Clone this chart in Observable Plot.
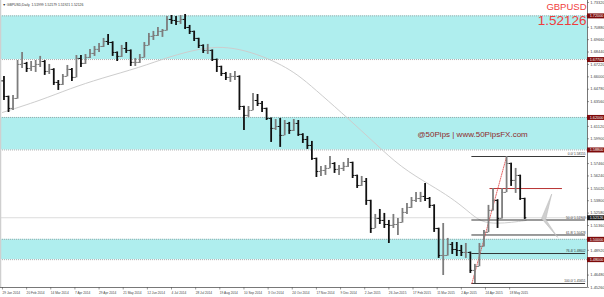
<!DOCTYPE html>
<html><head><meta charset="utf-8">
<script src="https://cdn.jsdelivr.net/npm/d3@7"></script>
<script src="https://cdn.jsdelivr.net/npm/@observablehq/plot@0.6"></script>
<style>body{margin:0;background:#fff} svg{display:block}</style>
</head><body><div id="chart"></div>
<script>
// ---- data: GBPUSD daily, grouped in 3-day bars ----
const barsPerGroup = 3;
const firstOpen = 1.6560;
const groupHigh = [
1.6604,1.6410,1.6417,1.6761,1.6840,1.6742,1.6751,1.6761,1.6801,1.6760,
1.6722,1.6680,1.6564,1.6623,1.6712,1.6682,1.6810,1.6810,1.6820,1.6870,
1.6899,1.6929,1.6978,1.7017,1.6945,1.6845,1.6909,1.6938,1.6865,1.6781,
1.6820,1.6938,1.7027,1.7047,1.7086,1.7066,1.7194,1.7204,1.7194,1.7204,
1.7214,1.7106,1.7050,1.6980,1.6915,1.6919,1.6865,1.6775,1.6705,1.6643,
1.6633,1.6653,1.6610,1.6310,1.6308,1.6436,1.6426,1.6358,1.6292,1.6195,
1.6180,1.6190,1.6170,1.6151,1.6180,1.6170,1.6040,1.6013,1.5964,1.5800,
1.5718,1.5727,1.5816,1.5755,1.5727,1.5757,1.5796,1.5760,1.5632,1.5619,
1.5599,1.5385,1.5245,1.5294,1.5255,1.5186,1.5245,1.5206,1.5304,1.5353,
1.5412,1.5462,1.5462,1.5550,1.5412,1.5340,1.5110,1.5156,1.5009,1.4969,
1.4969,1.4940,1.4959,1.4875,1.4753,1.4959,1.5087,1.5334,1.5501,1.5390,
1.5501,1.58155,1.5750,1.5698,1.5632,1.5405];
const groupLow = [
1.6367,1.6249,1.6269,1.6380,1.6682,1.6643,1.6653,1.6643,1.6692,1.6614,
1.6623,1.6515,1.6466,1.6515,1.6600,1.6554,1.6590,1.6692,1.6722,1.6781,
1.6801,1.6840,1.6889,1.6909,1.6801,1.6751,1.6791,1.6830,1.6702,1.6702,
1.6732,1.6785,1.6905,1.6958,1.6998,1.6988,1.7050,1.7116,1.7106,1.7116,
1.7066,1.7017,1.6948,1.6879,1.6830,1.6820,1.6751,1.6643,1.6604,1.6564,
1.6545,1.6564,1.6269,1.6072,1.6200,1.6265,1.6308,1.6249,1.6170,1.5954,
1.6072,1.5905,1.6020,1.6033,1.6062,1.6013,1.5944,1.5885,1.5777,1.5609,
1.5619,1.5629,1.5695,1.5649,1.5629,1.5668,1.5708,1.5599,1.5501,1.5521,
1.5334,1.5058,1.5105,1.5146,1.5107,1.4959,1.5107,1.5038,1.5160,1.5245,
1.5305,1.5363,1.5363,1.5373,1.5304,1.5068,1.4812,1.4644,1.4835,1.4851,
1.4831,1.4831,1.4812,1.4664,1.45651,1.4730,1.4925,1.5065,1.5280,1.5107,
1.5200,1.5460,1.5521,1.5452,1.5383,1.5196];
const groupClose = [
1.6407,1.6289,1.6387,1.6722,1.6732,1.6682,1.6702,1.6722,1.6751,1.6653,
1.6673,1.6545,1.6525,1.6604,1.6673,1.6594,1.6781,1.6732,1.6791,1.6830,
1.6870,1.6899,1.6948,1.6938,1.6840,1.6801,1.6879,1.6860,1.6742,1.6742,
1.6791,1.6909,1.6998,1.7007,1.7047,1.7057,1.7165,1.7155,1.7145,1.7165,
1.7086,1.7047,1.6978,1.6909,1.6860,1.6860,1.6771,1.6702,1.6633,1.6594,
1.6604,1.6604,1.6308,1.6220,1.6269,1.6367,1.6338,1.6289,1.6190,1.6092,
1.6111,1.6023,1.6141,1.6072,1.6141,1.6033,1.5983,1.5924,1.5796,1.5668,
1.5678,1.5698,1.5747,1.5688,1.5698,1.5718,1.5757,1.5629,1.5530,1.5570,
1.5383,1.5107,1.5206,1.5186,1.5146,1.5137,1.5146,1.5166,1.5265,1.5314,
1.5383,1.5402,1.5422,1.5402,1.5334,1.5107,1.4841,1.4841,1.4950,1.4900,
1.4890,1.4871,1.4871,1.4694,1.4733,1.4930,1.5068,1.5285,1.5383,1.5206,
1.5462,1.5747,1.5580,1.5629,1.5402,1.52126];

// moving average (bar index, price)
const maIndex = [0,25,45,65,91,111,131,146,161,176,188,198,211,229,247,264,284,297,308,317,328,337,347];
const maValue = [1.6249,1.6367,1.6486,1.6584,1.6692,1.6801,1.6879,1.6899,1.6860,1.6781,1.6692,1.6594,1.6426,1.6190,1.5944,1.5708,1.5530,1.5412,1.5284,1.5166,1.5156,1.5166,1.5186];

// support / resistance zones
const zoneTop = [1.72000, 1.62000, 1.50000];
const zoneBottom = [1.67700, 1.58800, 1.48000];
const bid = 1.52126;

// fibonacci
const fibLevels = [161.8, 150.0, 123.6, 0.0, 50.0, 61.8, 76.4, 100.0];
const fibHigh = 1.58155, fibLow = 1.45651;
const fibLowIndex = 311, fibHighIndex = 334, fibEndIndex = 386.3;
const redLevel = 1.55000, redStartIndex = 323, redEndIndex = 371;

// arrow object
const arrowIndex = [363.8, 357.2, 367.8, 359.9, 363.8];
const arrowPrice = [1.5442, 1.5206, 1.5019, 1.5196, 1.5442];

// axes
const dateLabels = ["29 Jan 2014","20 Feb 2014","14 Mar 2014","7 Apr 2014","29 Apr 2014","21 May 2014","12 Jun 2014","4 Jul 2014","28 Jul 2014","19 Aug 2014","10 Sep 2014","3 Oct 2014","24 Oct 2014","17 Nov 2014","9 Dec 2014","2 Jan 2015","26 Jan 2015","17 Feb 2015","11 Mar 2015","2 Apr 2015","24 Apr 2015","18 May 2015"];
const dateStep = 16;
const priceTicks = [1.73320,1.72100,1.70880,1.69660,1.68440,1.67220,1.66000,1.64780,1.63560,1.62340,1.61120,1.59900,1.58680,1.57460,1.56240,1.55020,1.53800,1.52580,1.51360,1.50140,1.48920,1.47700,1.46480,1.45260];

const header = "\u25BC GBPUSD,Daily  1.51999 1.52179 1.51921 1.52126";
const symbol = "GBPUSD";
const watermark = "@50Pips | www.50PipsFX.com";

// ---- build ----
const W = 604, H = 297, mB = 10, mR = 17;
const xMin = -1.3, xMax = 387.6;
const yMin = 1.45257, yMax = 1.73515;
const pxPerX = (W - mR) / (xMax - xMin);
const pricePerPx = (yMax - yMin) / (H - mB);

const bars = groupClose.map((c, k) => {
  const o = k ? groupClose[k - 1] : firstOpen;
  return {i: k * barsPerGroup + 1, hi: groupHigh[k], lo: groupLow[k], o, c, up: c >= o};
});
const ma = maIndex.map((i, k) => ({i, p: maValue[k]}));
const zones = zoneTop.map((t, k) => ({t, b: zoneBottom[k]}));
const edges = zoneTop.concat(zoneBottom);
const fibs = fibLevels.map(l => {
  const p = fibHigh - (l / 100) * (fibHigh - fibLow);
  return {l, p, label: l.toFixed(1) + "/ " + p.toFixed(5)};
});
const arrow = arrowIndex.map((i, k) => ({i, p: arrowPrice[k]}));
const dates = dateLabels.map((t, k) => ({i: k * dateStep, t}));
const boxes = edges.map(p => ({p, fill: "#7d0a0a"})).concat([{p: bid, fill: "#1a1a1a"}]);
const ticks = priceTicks.filter(t => {
  const dRed = Math.min(...edges.map(e => Math.abs(e - t))) / pricePerPx;
  const dBid = Math.abs(bid - t) / pricePerPx;
  return dRed > 3.6 && dBid > 4.5;
});
const barColor = d => d.up ? "#7d7d7d" : "#111";
const font = "Liberation Sans, Arial, sans-serif";

const chart = Plot.plot({
  width: W, height: H,
  marginLeft: 0, marginRight: mR, marginTop: 0, marginBottom: mB,
  x: {type: "linear", domain: [xMin, xMax], axis: null},
  y: {type: "linear", domain: [yMin, yMax], axis: null},
  style: {fontFamily: font, background: "#fff"},
  marks: [
    Plot.rect(zones, {x1: xMin, x2: xMax, y1: "b", y2: "t", fill: "#afeeee"}),
    Plot.ruleY(edges, {x1: xMin, x2: xMax, stroke: "#9a9a9a", strokeWidth: 0.8, strokeDasharray: "1,1"}),
    Plot.ruleY([bid], {x1: xMin, x2: xMax, stroke: "#dcdcdc", strokeWidth: 1}),
    Plot.ruleX([xMin], {y1: yMin, y2: yMax, stroke: "#cfcfcf", strokeWidth: 1.5}),
    Plot.line(ma, {x: "i", y: "p", stroke: "#cdcdcd", strokeWidth: 1, curve: "basis"}),
    Plot.ruleY([redLevel], {x1: redStartIndex, x2: redEndIndex, stroke: "#b83232", strokeWidth: 1}),
    Plot.ruleY(fibs, {y: "p", x1: fibLowIndex, x2: fibEndIndex, stroke: "#222", strokeWidth: 0.9}),
    Plot.text(fibs, {x: fibEndIndex, y: "p", text: "label", textAnchor: "end", dy: -2.2, fontSize: 3.2, fill: "#333"}),
    Plot.line([{i: fibLowIndex, p: fibLow}, {i: fibHighIndex, p: fibHigh}], {x: "i", y: "p", stroke: "#e04040", strokeWidth: 0.8, strokeDasharray: "1.2,1.2"}),
    Plot.ruleX(bars, {x: "i", y1: "lo", y2: "hi", stroke: barColor, strokeWidth: 1.8}),
    Plot.ruleY(bars, {y: "o", x1: d => d.i - 1.4, x2: "i", stroke: barColor, strokeWidth: 1}),
    Plot.ruleY(bars, {y: "c", x1: "i", x2: d => d.i + 1.4, stroke: barColor, strokeWidth: 1}),
    Plot.line(arrow, {x: "i", y: "p", fill: "#cfcfcf", stroke: "#bdbdbd", strokeWidth: 0.6}),
    // frame
    Plot.ruleX([xMax], {y1: yMin, y2: yMax + 0.01, stroke: "#555", strokeWidth: 0.8}),
    Plot.ruleY([yMin], {x1: xMin, x2: xMax, stroke: "#555", strokeWidth: 0.8}),
    // right axis
    Plot.ruleY(ticks, {x1: xMax, x2: xMax + 2 / pxPerX, stroke: "#555", strokeWidth: 0.6}),
    Plot.text(ticks, {x: xMax, y: d => d, text: d => d.toFixed(5), dx: 2.8, textAnchor: "start", fontSize: 4, fill: "#444"}),
    Plot.ruleY(boxes, {y: "p", x1: xMax, x2: xMax + 17 / pxPerX, stroke: "fill", strokeWidth: 5}),
    Plot.text(boxes, {x: xMax, y: "p", text: d => d.p.toFixed(5), dx: 2.2, textAnchor: "start", fontSize: 3.8, fill: "#fff"}),
    // bottom axis
    Plot.ruleX(dates, {x: "i", y1: yMin, y2: yMin - 2.5 * pricePerPx, stroke: "#555", strokeWidth: 0.6}),
    Plot.text(dates, {x: "i", y: yMin, text: "t", dy: 5.5, dx: 0, textAnchor: "start", fontSize: 3.2, fill: "#444"}),
    // texts
    Plot.text([header], {frameAnchor: "top-left", dx: 2, dy: 4, lineAnchor: "middle", textAnchor: "start", fontSize: 3.4, fill: "#333"}),
    Plot.text([symbol], {frameAnchor: "top-right", dx: -1, dy: 6, lineAnchor: "middle", textAnchor: "end", fontSize: 9.5, fill: "#f03c3c"}),
    Plot.text([bid.toFixed(5)], {frameAnchor: "top-right", dx: -1, dy: 20, lineAnchor: "middle", textAnchor: "end", fontSize: 13.5, fill: "#f03c3c"}),
    Plot.text([watermark], {frameAnchor: "top-left", dx: 417, dy: 134, lineAnchor: "middle", textAnchor: "start", fontSize: 8, fill: "#8e2c2c"})
  ]
});
document.getElementById("chart").appendChild(chart);
</script>
</body></html>
